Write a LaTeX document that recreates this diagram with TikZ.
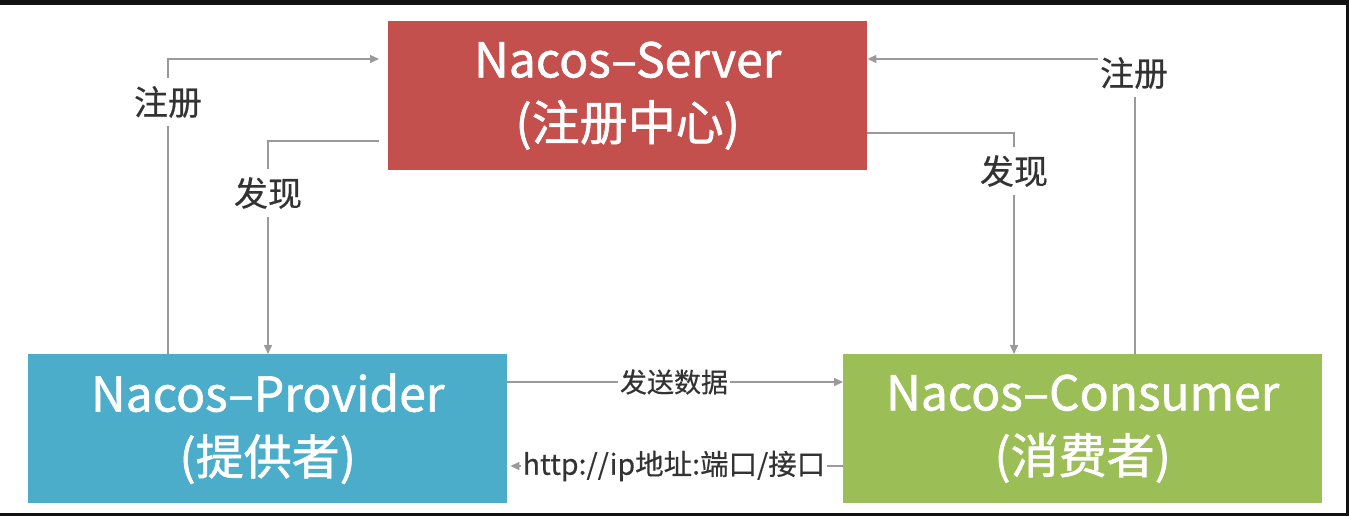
\documentclass[tikz,border=0pt]{standalone}
\usepackage{fontspec}
\setmainfont{Noto Sans CJK SC}
\newfontfamily\boxfont[FakeBold=1.2]{Noto Sans CJK SC}
\newfontfamily\lblfont[FakeBold=0.4]{Noto Sans CJK SC}
\usetikzlibrary{arrows.meta}
\definecolor{srvred}{HTML}{C4504D}
\definecolor{provblue}{HTML}{4BADCA}
\definecolor{consgreen}{HTML}{9BBE56}
\definecolor{linegray}{HTML}{9A9A9A}
\definecolor{lbltext}{HTML}{333333}
\begin{document}
\begin{tikzpicture}[x=1pt,y=-1pt,
  box/.style={minimum width=479pt, minimum height=149pt, inner sep=0pt, text=white,
    font=\boxfont\fontsize{48}{63}\selectfont, align=center, anchor=north west},
  conn/.style={draw=linegray, line width=1.5pt, -{Triangle[length=9pt,width=8pt]}},
  lbl/.style={fill=white, inner xsep=2pt, inner ysep=8pt, text=lbltext,
    font=\lblfont\fontsize{34}{38}\selectfont},
  slbl/.style={fill=white, inner xsep=2pt, inner ysep=6pt, text=lbltext,
    font=\lblfont\fontsize{27}{30}\selectfont}
]
\useasboundingbox (0,0) rectangle (1349,516);
\fill[white] (0,0) rectangle (1349,516);
\fill[black!93] (0,0) rectangle (1349,5);
\fill[black!93] (1346,0) rectangle (1349,516);
\fill[black!93] (0,513) rectangle (1349,516);

\node[box, fill=srvred] (server) at (388,21) {Nacos–Server\\(注册中心)};
\node[box, fill=provblue] (provider) at (28,354) {Nacos–Provider\\(提供者)};
\node[box, fill=consgreen] (consumer) at (843,354) {Nacos–Consumer\\(消费者)};

\coordinate (xL1) at (168,0);
\coordinate (xL2) at (268,0);
\coordinate (xR1) at (1014,0);
\coordinate (xR2) at (1135,0);
\coordinate (yTop) at (0,59);
\coordinate (yLd) at (0,141);
\coordinate (yRd) at (0,133);
\coordinate (ySend) at (0,382);
\coordinate (yHttp) at (0,466);

\draw[conn, shorten >=9pt] (provider.north -| xL1) |- (server.west |- yTop);
\draw[conn, shorten <=9pt] (server.west |- yLd) -| (provider.north -| xL2);
\draw[conn] (consumer.north -| xR2) |- (server.east |- yTop);
\draw[conn] (server.east |- yRd) -| (consumer.north -| xR1);
\draw[conn] (provider.east |- ySend) -- (consumer.west |- ySend);
\draw[conn, shorten >=3pt] (consumer.west |- yHttp) -- (provider.east |- yHttp);

\node[lbl] (lreg) at (168,102) {注册};
\node[lbl] (ldis) at (268,193) {发现};
\node[lbl] (rreg) at (1134,73) {注册};
\node[lbl] (rdis) at (1014,171) {发现};
\node[slbl] (send) at (674,382) {发送数据};
\node[slbl, font=\lblfont\fontsize{28.5}{30}\selectfont] (http) at (674,466) {http://ip地址:端口/接口};
\end{tikzpicture}
\end{document}
